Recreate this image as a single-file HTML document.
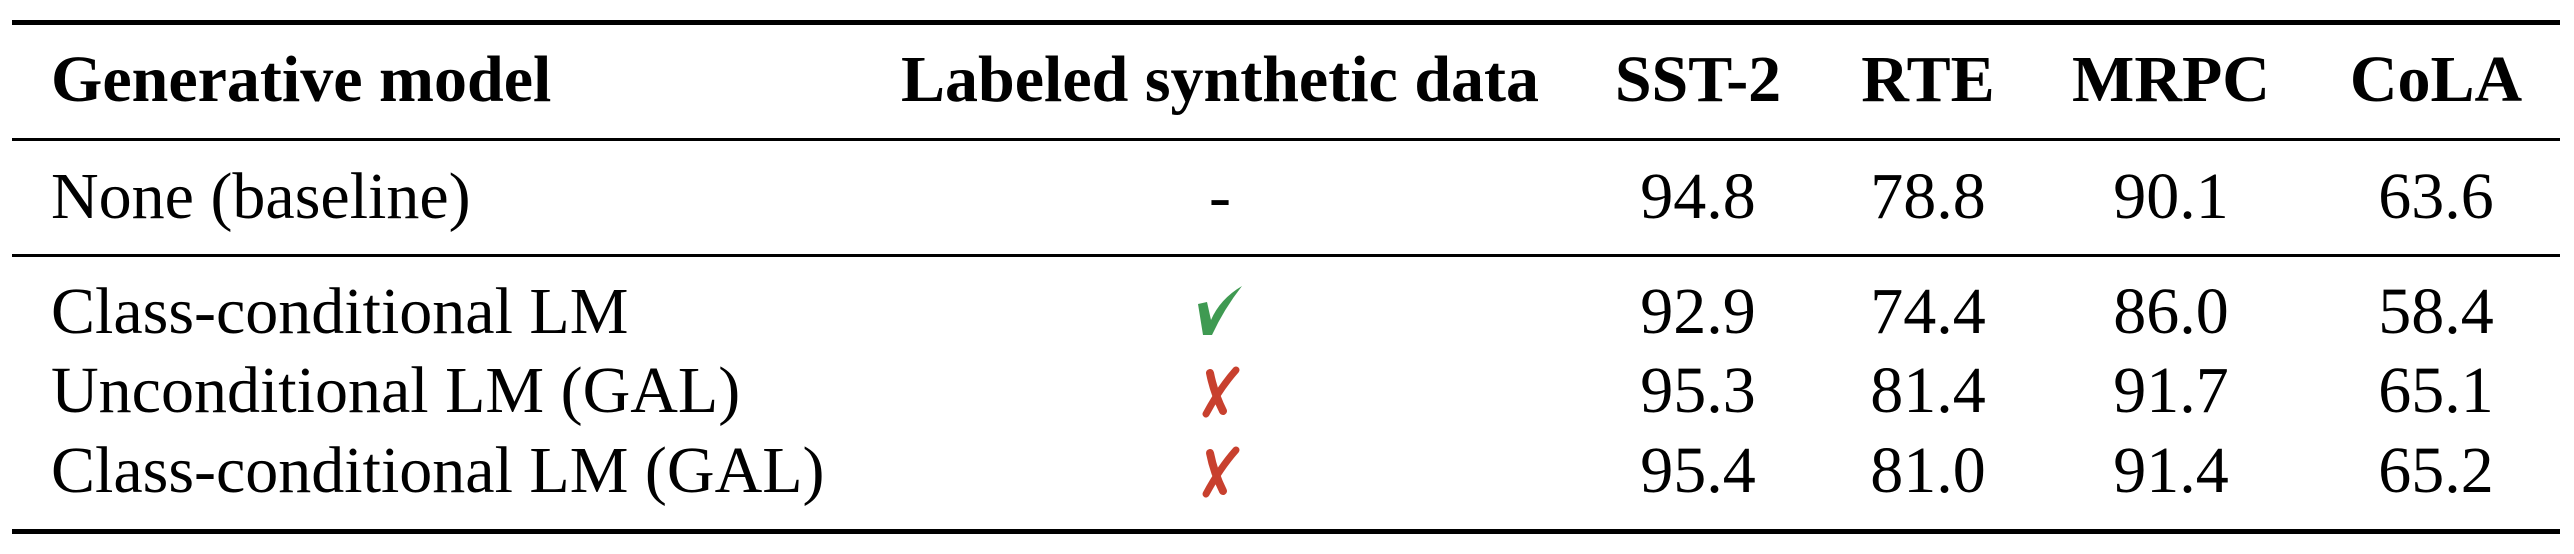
<!DOCTYPE html>
<html><head><meta charset="utf-8"><style>
html,body{margin:0;padding:0;background:#fff;}
#page{position:relative;width:2574px;height:554px;overflow:hidden;font-family:"Liberation Serif","Times New Roman",Times,serif;color:#000;}
.t{position:absolute;font-size:66px;line-height:66px;white-space:nowrap;font-family:"Liberation Serif","Times New Roman",Times,serif;}
.b{font-weight:bold;}
.ctr{width:800px;text-align:center;}
.rule{position:absolute;left:12px;width:2548px;background:#000;}
svg{position:absolute;left:0;top:0;}
</style></head><body>
<div id="page">
<div class="rule" style="top:20px;height:5px"></div>
<div class="rule" style="top:138px;height:3px"></div>
<div class="rule" style="top:254px;height:3px"></div>
<div class="rule" style="top:529px;height:5px"></div>
<svg id="icons" width="2574" height="554"></svg>
</div>
<script>
const headers = ["Generative model","Labeled synthetic data","SST-2","RTE","MRPC","CoLA"];
const models = ["None (baseline)","Class-conditional LM","Unconditional LM (GAL)","Class-conditional LM (GAL)"];
const labeled = ["-","yes","no","no"];
const sst2 = ["94.8","92.9","95.3","95.4"];
const rte = ["78.8","74.4","81.4","81.0"];
const mrpc = ["90.1","86.0","91.7","91.4"];
const cola = ["63.6","58.4","65.1","65.2"];

const NS="http://www.w3.org/2000/svg";
const page=document.getElementById('page');
const icons=document.getElementById('icons');
const colX=[51,1220,1698,1928,2171,2436];
const rowY=[219,334,413,493];
function txt(x,y,s,bold,center){
  const d=document.createElement('div');
  d.className='t'+(bold?' b':'')+(center?' ctr':'');
  d.style.top=(y-55)+'px';
  d.style.left=(center?x-400:x)+'px';
  d.textContent=s;page.appendChild(d);return d;
}
headers.forEach((h,i)=>{
  const t=txt(colX[i],102,h,true,i!==0);
  
  
});
const cols=[sst2,rte,mrpc,cola];
models.forEach((m,r)=>{
  const y=rowY[r];
  const t=txt(colX[0],y,m,false,false);
  
  
  const cx=colX[1];
  if(labeled[r]==='-'){
    const d=txt(cx,y,'-',false,true);
    
    
  } else if(labeled[r]==='yes'){
    const p=document.createElementNS(NS,'path');
    p.setAttribute('d',`M${cx-22} ${y-30} L${cx-13} ${y-32} L${cx-9} ${y-14} Q${cx} ${y-35} ${cx+22} ${y-48} Q${cx+4} ${y-25} ${cx-8} ${y+1} L${cx-17} ${y+1} Z`);
    p.setAttribute('fill','#3f9a52');
    
    
    icons.appendChild(p);
  } else {
    const g=document.createElementNS(NS,'g');
    
    
    g.innerHTML=`<path d="M${cx-10} ${y-40} Q${cx-6} ${y-20} ${cx+3} ${y-2}" stroke="#c8402e" stroke-width="8" fill="none" stroke-linecap="round"/><path d="M${cx+16} ${y-43} Q${cx} ${y-25} ${cx-14} ${y+1}" stroke="#c8402e" stroke-width="7" fill="none" stroke-linecap="round"/>`;
    icons.appendChild(g);
  }
  cols.forEach((arr,c)=>{
    const v=txt(colX[c+2],y,arr[r],false,true);
    
    
  });
});
</script>
</body></html>
